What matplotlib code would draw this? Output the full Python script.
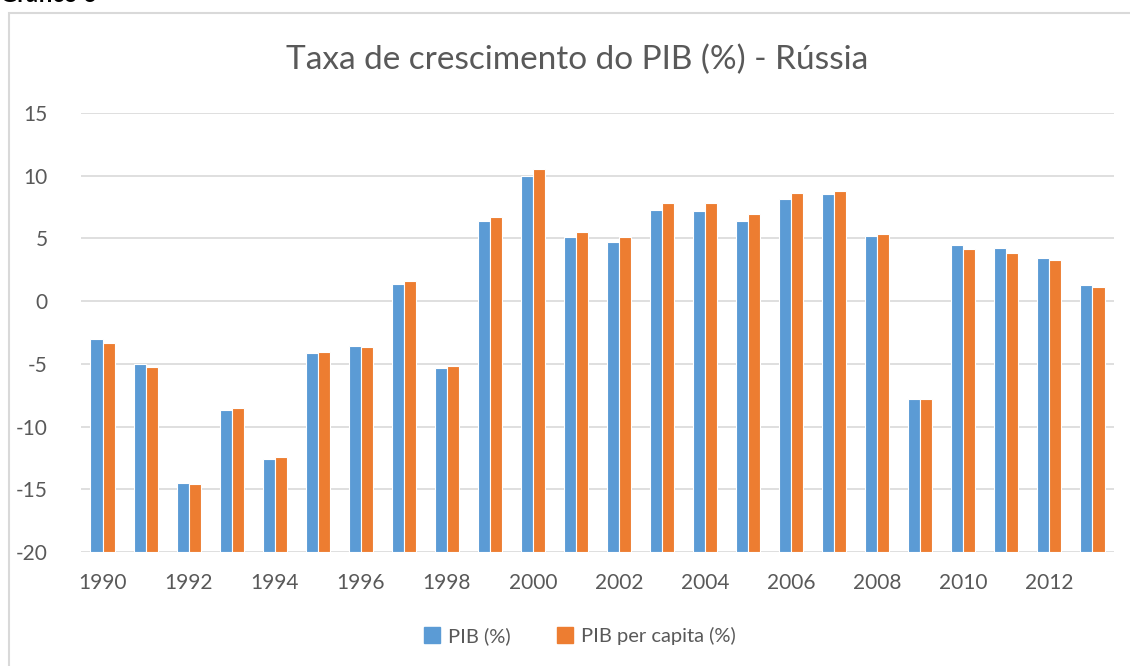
import matplotlib.pyplot as plt
import matplotlib.patches as mpatches
import numpy as np

# Data
years = list(range(1990, 2014))
pib = [-3.0, -5.05, -14.5, -8.7, -12.6, -4.15, -3.6, 1.4, -5.3, 6.4, 10.0, 5.1,
       4.75, 7.3, 7.2, 6.37, 8.15, 8.54, 5.23, -7.83, 4.5, 4.26, 3.42, 1.3]
pib_pc = [-3.37, -5.25, -14.6, -8.55, -12.45, -4.03, -3.63, 1.57, -5.17, 6.7, 10.5, 5.55,
          5.15, 7.86, 7.83, 6.93, 8.62, 8.81, 5.39, -7.8, 4.14, 3.85, 3.29, 1.11]
series_names = ["PIB (%)", "PIB per capita (%)"]
colors = ["#5b9bd5", "#ed7d31"]
yticks = [-20, -15, -10, -5, 0, 5, 10, 15]

plt.rcParams['font.family'] = ['Lato', 'DejaVu Sans']

W, H = 1130, 666
fig = plt.figure(figsize=(W / 100, H / 100), dpi=100)

# chart frame (only top and left edges fall inside the picture)
fig.patches.append(mpatches.Rectangle((8.5 / W, -0.1), 1.2, 1.1 - 13.5 / H, transform=fig.transFigure,
                                      fill=False, edgecolor="#d9d9d9", linewidth=1.5))
# caption above the chart, mostly cut off by the top edge as in the source
fig.text(0.0, 1 - 2.5 / H, "Gráfico 6", fontsize=17, fontweight='bold', va='baseline', ha='left')

ax = fig.add_axes([81 / W, (H - 552) / H, (1114 - 81) / W, (552 - 113) / H])

x = np.arange(len(years))
base = -20
ax.bar(x - 0.14, np.array(pib) - base, bottom=base, width=0.28, color=colors[0],
       edgecolor="white", linewidth=0.8, zorder=3)
ax.bar(x + 0.14, np.array(pib_pc) - base, bottom=base, width=0.28, color=colors[1],
       edgecolor="white", linewidth=0.8, zorder=3)

ax.set_xlim(-0.5, len(years) - 0.5)
ax.set_ylim(-20, 15)
ax.set_yticks(yticks)
ax.set_yticklabels([str(t) for t in yticks])
ax.set_xticks(x[::2])
ax.set_xticklabels([str(y) for y in years[::2]])
ax.grid(axis='y', color="#d9d9d9", linewidth=1.2, zorder=0)
for s in ax.spines.values():
    s.set_visible(False)
ax.tick_params(axis='both', length=0, labelsize=15, labelcolor="#595959")
ax.tick_params(axis='y', pad=24)
ax.tick_params(axis='x', pad=15)

fig.text(577 / W, 1 - 60 / H, "Taxa de crescimento do PIB (%) - Rússia", fontsize=24,
         color="#595959", ha='center', va='center')

handles = [mpatches.Patch(color=c, label=n) for c, n in zip(colors, series_names)]
fig.legend(handles=handles, loc='center', bbox_to_anchor=(580 / W, 1 - 636 / H), ncol=2,
           frameon=False, fontsize=14.5, labelcolor="#595959", handlelength=0.8, handleheight=0.8,
           handletextpad=0.4, columnspacing=2.3)

fig.savefig("out.png", dpi=100)
